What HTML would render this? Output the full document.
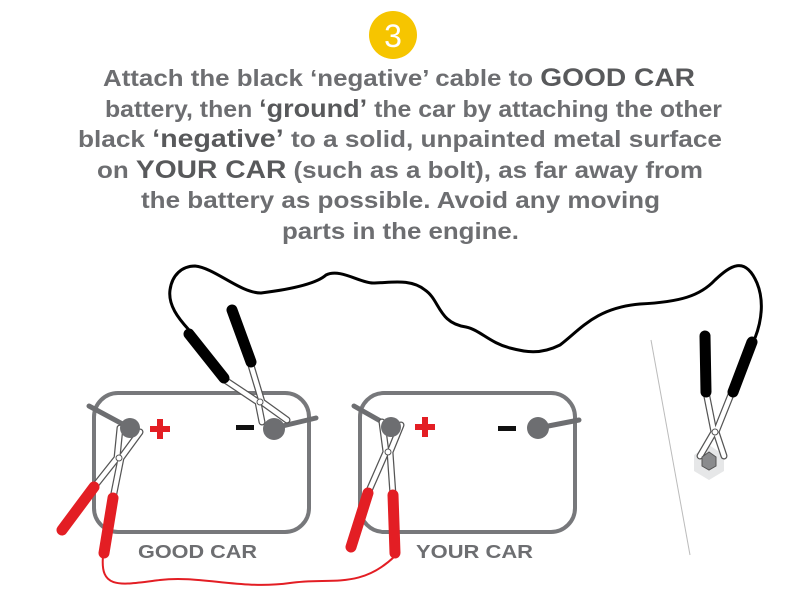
<!DOCTYPE html>
<html><head><meta charset="utf-8"><style>
html,body{margin:0;padding:0;background:#fff;}
svg{display:block}
text{font-family:"Liberation Sans",Arial,sans-serif;font-weight:bold;}
</style></head><body>
<svg width="800" height="612" viewBox="0 0 800 612" xmlns="http://www.w3.org/2000/svg">
<circle cx="393" cy="35" r="24" fill="#f6c500"/>
<text x="393" y="47" text-anchor="middle" font-size="32" fill="#fff" style="font-weight:normal">3</text>
<g font-size="23" fill="#6d6e71">
<text x="103" y="86" textLength="592" lengthAdjust="spacingAndGlyphs">Attach the black ‘negative’ cable to <tspan fill="#58595b" font-size="25">GOOD CAR</tspan></text>
<text x="105" y="117" textLength="617" lengthAdjust="spacingAndGlyphs">battery, then <tspan fill="#58595b" font-size="25">‘ground’</tspan> the car by attaching the other</text>
<text x="78" y="147" textLength="644" lengthAdjust="spacingAndGlyphs">black <tspan fill="#58595b" font-size="25">‘negative’</tspan> to a solid, unpainted metal surface</text>
<text x="97" y="178" textLength="606" lengthAdjust="spacingAndGlyphs">on <tspan fill="#58595b" font-size="25">YOUR CAR</tspan> (such as a bolt), as far away from</text>
<text x="141" y="208" textLength="519" lengthAdjust="spacingAndGlyphs">the battery as possible. Avoid any moving</text>
<text x="282" y="239" textLength="237" lengthAdjust="spacingAndGlyphs">parts in the engine.</text>
</g>
<line x1="651" y1="340" x2="690" y2="555" stroke="#bbb" stroke-width="1"/>
<rect x="94" y="393" width="215" height="139" rx="24" fill="none" stroke="#77787b" stroke-width="4"/>
<rect x="360" y="393" width="215" height="139" rx="24" fill="none" stroke="#77787b" stroke-width="4"/>
<g stroke="#6d6e71" stroke-width="5" stroke-linecap="round">
<line x1="89" y1="406" x2="130" y2="428"/>
<line x1="274" y1="428" x2="316" y2="418"/>
<line x1="354" y1="406" x2="391" y2="427"/>
<line x1="538" y1="428" x2="579" y2="420"/>
</g>
<g fill="#e31e24">
<rect x="150" y="426" width="20" height="6"/><rect x="157" y="419" width="6" height="20"/>
<rect x="415" y="424" width="20" height="6"/><rect x="422" y="417" width="6" height="20"/>
</g>
<rect x="236" y="425" width="18" height="5" fill="#111"/>
<rect x="498" y="426" width="18" height="5" fill="#111"/>
<polygon points="694,455 709,445 724,455 724,471 709,480 694,471" fill="#e6e7e8"/>
<!-- clamp arms: outlined -->
<g fill="none" stroke-linecap="round" stroke-linejoin="round">
<g stroke="#555" stroke-width="7">
<path d="M94,487 L117,458 L120,428"/><path d="M113,498 L121,458 L140,432"/>
<path d="M368,493 L386,452 L382,422"/><path d="M393,495 L390,452 L401,425"/>
<path d="M222,378 L258,402 L262,422"/><path d="M250,362 L262,402 L287,420"/>
<path d="M706,392 L714,432 L700,456"/><path d="M732,392 L716,432 L724,456"/>
</g>
<g stroke="#fff" stroke-width="4.5">
<path d="M94,487 L117,458 L120,428"/><path d="M113,498 L121,458 L140,432"/>
<path d="M368,493 L386,452 L382,422"/><path d="M393,495 L390,452 L401,425"/>
<path d="M222,378 L258,402 L262,422"/><path d="M250,362 L262,402 L287,420"/>
<path d="M706,392 L714,432 L700,456"/><path d="M732,392 L716,432 L724,456"/>
</g>
</g>
<g fill="#fff" stroke="#555" stroke-width="1">
<circle cx="119" cy="458" r="3"/><circle cx="388" cy="452" r="3"/><circle cx="260" cy="402" r="3"/><circle cx="715" cy="432" r="3"/>
</g>
<g fill="#6d6e71">
<circle cx="130" cy="428" r="10"/><circle cx="274" cy="429" r="11"/>
<circle cx="391" cy="427" r="10"/><circle cx="538" cy="428" r="11"/>
</g>
<polygon points="702,457 709,452 716,457 716,466 709,470 702,466" fill="#8a8b8d" stroke="#555" stroke-width="1"/>
<g stroke="#e31e24" stroke-width="11" stroke-linecap="round">
<line x1="62" y1="530" x2="94" y2="487"/>
<line x1="104" y1="553" x2="113" y2="498"/>
<line x1="351" y1="547" x2="368" y2="493"/>
<line x1="395" y1="553" x2="393" y2="495"/>
</g>
<path d="M103,556 C100,590 120,585 160,580 C200,575 240,590 290,583 C330,577 360,590 395,556" fill="none" stroke="#e31e24" stroke-width="2"/>
<path d="M189,330 C178,318 168,305 170,290 C172,275 182,266 195,266 C215,268 240,293 261,293 C285,290 315,285 326,275 C340,268 360,283 373,283 C390,283 410,278 425,290 C440,300 438,323 466,327 C480,330 490,343 510,348 C525,352 540,355 560,345 C580,330 595,308 640,304 C680,302 700,296 715,280 C730,266 745,255 757,283 C764,300 762,320 755,338" fill="none" stroke="#000" stroke-width="3"/>
<g stroke="#000" stroke-width="11" stroke-linecap="round">
<line x1="189" y1="334" x2="224" y2="378"/>
<line x1="232" y1="310" x2="251" y2="362"/>
<line x1="705" y1="336" x2="706" y2="392"/>
<line x1="752" y1="342" x2="733" y2="392"/>
</g>
<g font-size="18.5" fill="#6d6e71">
<text x="138" y="558" textLength="119" lengthAdjust="spacingAndGlyphs">GOOD CAR</text>
<text x="416" y="558" textLength="117" lengthAdjust="spacingAndGlyphs">YOUR CAR</text>
</g>
</svg>
</body></html>
